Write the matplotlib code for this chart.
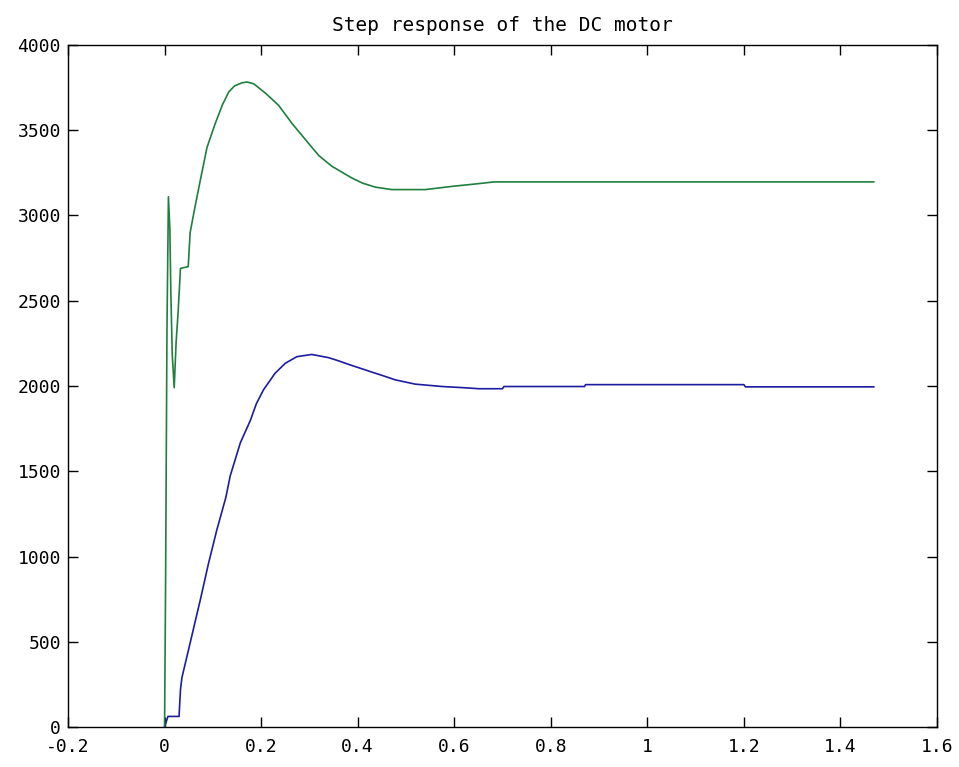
import matplotlib
matplotlib.use("Agg")
import matplotlib.pyplot as plt

# Blue response (speed)
blue_t = [0.0, 0.007, 0.030, 0.033, 0.036, 0.053, 0.074, 0.091, 0.108, 0.127, 0.136,
          0.157, 0.178, 0.190, 0.205, 0.229, 0.250, 0.274, 0.305, 0.340, 0.360, 0.381,
          0.430, 0.455, 0.478, 0.519, 0.575, 0.620, 0.651, 0.700, 0.703, 0.870, 0.872,
          1.200, 1.203, 1.469]
blue_v = [0, 62, 62, 220, 290, 493, 745, 959, 1153, 1347, 1473,
          1667, 1800, 1895, 1978, 2075, 2133, 2172, 2185, 2166, 2148, 2127,
          2081, 2058, 2036, 2011, 1997, 1990, 1984, 1984, 1997, 1997, 2008,
          2008, 1995, 1995]

# Green response
green_t = [0.0, 0.002, 0.005, 0.008, 0.011, 0.013, 0.016, 0.020, 0.024, 0.028, 0.033,
           0.049, 0.053, 0.062, 0.075, 0.088, 0.105, 0.120, 0.133, 0.145, 0.160, 0.171,
           0.185, 0.210, 0.236, 0.264, 0.298, 0.320, 0.347, 0.388, 0.410, 0.437, 0.471,
           0.540, 0.596, 0.651, 0.682, 1.469]
green_v = [0, 780, 2330, 3110, 2920, 2550, 2180, 1990, 2260, 2430, 2690,
           2700, 2900, 3035, 3220, 3400, 3540, 3650, 3725, 3760, 3778, 3783,
           3772, 3715, 3647, 3540, 3424, 3350, 3288, 3220, 3190, 3166, 3152,
           3152, 3171, 3187, 3197, 3197]

title = "Step response of the DC motor"
xticks = [-0.2, 0, 0.2, 0.4, 0.6, 0.8, 1, 1.2, 1.4, 1.6]
xticklabels = ["-0.2", "0", "0.2", "0.4", "0.6", "0.8", "1", "1.2", "1.4", "1.6"]
yticks = [0, 500, 1000, 1500, 2000, 2500, 3000, 3500, 4000]

W, H = 959, 767
fig = plt.figure(figsize=(W / 100, H / 100), dpi=100)
ax = fig.add_axes([68 / W, 1 - 727 / H, (937 - 68) / W, (727 - 45) / H])

ax.plot(blue_t, blue_v, color="#1c1ca0", lw=1.2)
ax.plot(green_t, green_v, color="#1f7f3f", lw=1.2)

ax.set_xlim(-0.2, 1.6)
ax.set_ylim(0, 4000)
ax.set_xticks(xticks)
ax.set_xticklabels(xticklabels)
ax.set_yticks(yticks)

for lab in ax.get_xticklabels() + ax.get_yticklabels():
    lab.set_fontfamily("DejaVu Sans Mono")
    lab.set_fontsize(13)
ax.tick_params(direction="in", length=7, width=1.0, top=True, right=True,
               labeltop=False, labelright=False, colors="black")
ax.tick_params(axis="y", pad=5)
ax.tick_params(axis="x", pad=8)
for s in ax.spines.values():
    s.set_linewidth(1.0)

ax.set_title(title, fontfamily="DejaVu Sans Mono", fontsize=14, pad=10)

fig.savefig("out.png", dpi=100, facecolor="white")
